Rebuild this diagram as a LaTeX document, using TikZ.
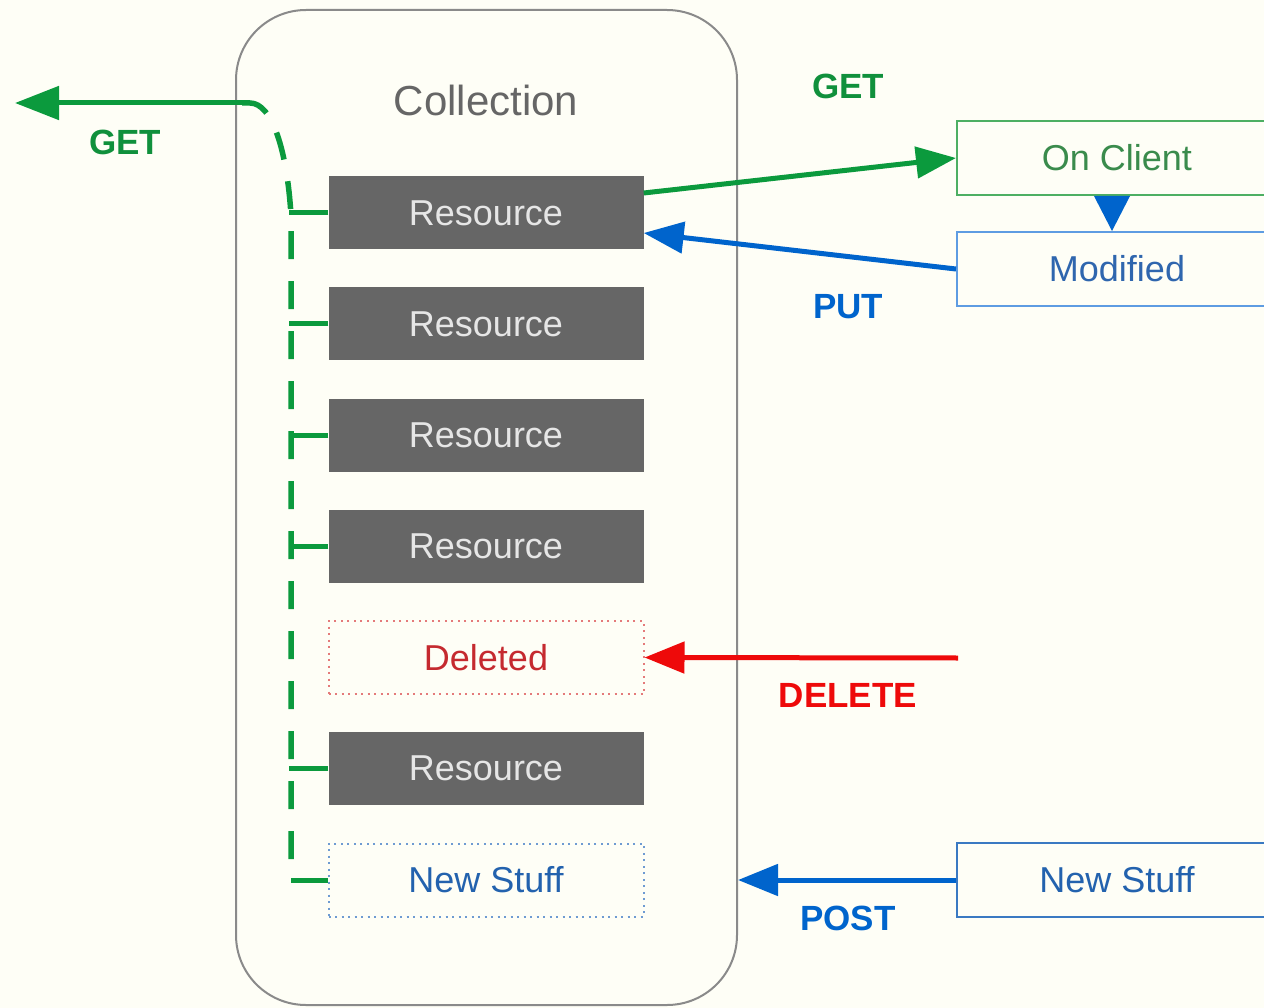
\documentclass[tikz,border=0pt]{standalone}
\usepackage{fontspec}
\setmainfont{Liberation Sans}
\usetikzlibrary{arrows.meta}
\definecolor{bgc}{HTML}{FEFEF6}
\definecolor{collgray}{HTML}{8A8A8A}
\definecolor{colltext}{HTML}{666666}
\definecolor{resfill}{HTML}{666666}
\definecolor{restext}{HTML}{E6E6E6}
\definecolor{gget}{HTML}{0B9A3D}
\definecolor{glabel}{HTML}{10903C}
\definecolor{bput}{HTML}{0064CC}
\definecolor{rdel}{HTML}{EE0A0A}
\definecolor{deltext}{HTML}{C52A2F}
\definecolor{delborder}{HTML}{E47A7A}
\definecolor{nsborder}{HTML}{6E9BD2}
\definecolor{nstext}{HTML}{2362AE}
\definecolor{ocborder}{HTML}{4DAF63}
\definecolor{octext}{HTML}{3A8B4C}
\definecolor{modborder}{HTML}{5E9CE2}
\definecolor{modtext}{HTML}{2F66AE}
\definecolor{ns2border}{HTML}{3A79C2}
\newcommand\fsRes{\fontsize{36}{40}\selectfont}
\newcommand\fsColl{\fontsize{42}{48}\selectfont}
\newcommand\fsLbl{\fontsize{35}{40}\selectfont\bfseries}
\begin{document}
\begin{tikzpicture}[x=1pt,y=-1pt,
  box/.style={minimum width=315pt,minimum height=73pt,inner sep=0pt,font=\fsRes},
  resbox/.style={box,fill=resfill,text=restext},
  dotbox/.style={box,line width=2pt,dash pattern=on 2pt off 4.5pt},
  clientbox/.style={minimum width=320pt,minimum height=74pt,inner sep=0pt,font=\fsRes,line width=2pt},
  lbl/.style={font=\fsLbl,inner sep=0pt},
  bigarrow/.style={line width=5pt,-{Triangle[length=40pt,width=31pt]}},
  stub/.style={gget,line width=5pt},
  trunk/.style={gget,line width=5.5pt,dash pattern=on 28pt off 22pt}
]
\fill[bgc] (0,0) rectangle (1264,1008);
\useasboundingbox (0,0) rectangle (1264,1008);

% collection
\node[draw=collgray,line width=2pt,rounded corners=70pt,minimum width=501pt,minimum height=995pt,inner sep=0pt] (coll) at (486.5,507.5) {};
\node[font=\fsColl,text=colltext,inner sep=0pt] (colltitle) at (486,100) {Collection};

% resources
\node[resbox] (r1) at (486,213) {Resource};
\node[resbox] (r2) at (486,324) {Resource};
\node[resbox] (r3) at (486,435) {Resource};
\node[resbox] (r4) at (486,546) {Resource};
\node[dotbox,draw=delborder,text=deltext] (del) at (486,657.5) {Deleted};
\node[resbox] (r6) at (486,768) {Resource};
\node[dotbox,draw=nsborder,text=nstext] (ns1) at (486,880) {New Stuff};

% client side boxes
\node[clientbox,draw=ocborder,text=octext] (oc) at (1117,158) {On Client};
\node[clientbox,draw=modborder,text=modtext] (mod) at (1117,269) {Modified};
\node[clientbox,draw=ns2border,text=nstext] (ns2) at (1117,880) {New Stuff};
\fill[bput] ([xshift=-23pt]oc.south) -- ([xshift=13pt]oc.south) -- ([xshift=-5pt]mod.north) -- cycle;

% labels
\node[lbl,text=glabel] (getr) at (848,86) {GET};
\node[lbl,text=bput] (put) at (848,307) {PUT};
\node[lbl,text=rdel] (dellbl) at (848,695) {DELETE};
\node[lbl,text=bput] (post) at (848,918) {POST};
\node[lbl,text=glabel] (getl) at (125,142) {GET};

% arrows
\draw[bigarrow,gget] ([yshift=20pt]r1.east) -- (oc.west);
\draw[bigarrow,bput] (mod.west) -- ([yshift=-20pt]r1.east);
\coordinate (delstart) at (958,658);
\draw[bigarrow,rdel] (delstart) -- (del.east);
\draw[bigarrow,bput] (ns2.west) -- (ns2.west -| coll.east);

% left GET
\coordinate (gtip) at (15,103);
\coordinate (gjoin) at (242,103);
\coordinate (tbot) at (291,873);
\draw[bigarrow,gget,-{Triangle[length=44pt,width=33pt]}] (gjoin) -- (gtip);
\draw[trunk] (gjoin) -- (250,103) .. controls (272,103) and (287,150) .. (291,215) -- (tbot);

% stubs
\draw[stub] (r1.west) -- ++(-39,0);
\draw[stub] (r2.west) -- ++(-39,0);
\draw[stub] (r3.west) -- ++(-39,0);
\draw[stub] (r4.west) -- ++(-39,0);
\draw[stub] (r6.west) -- ++(-39,0);
\draw[stub] (ns1.west) -- ++(-37,0);
\end{tikzpicture}
\end{document}
